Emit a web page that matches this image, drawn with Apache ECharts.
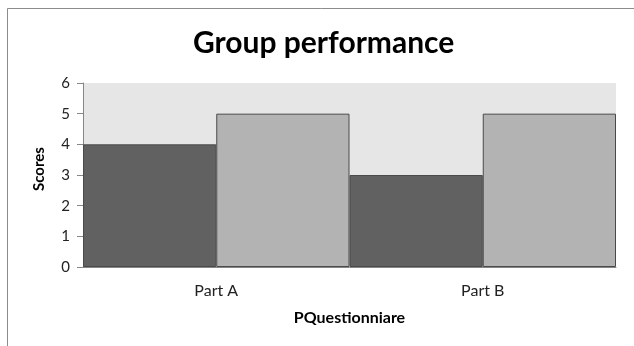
<!DOCTYPE html>
<html>
<head>
<meta charset="utf-8">
<script src="https://cdn.jsdelivr.net/npm/echarts@6/dist/echarts.min.js"></script>
<style>
  html, body { margin: 0; padding: 0; background: #fff; }
  #chart { width: 634px; height: 346px; }
</style>
</head>
<body>
<div id="chart"></div>
<script>
// Questionnaire parts on the category axis
const categories = ['Part A', 'Part B'];
// Scores of the two groups
const groupOne = [4, 3];
const groupTwo = [5, 5];
// Score axis ticks
const yMin = 0, yMax = 6, yStep = 1;

const FONT = 'Lato, "Open Sans", sans-serif';

const chart = echarts.init(document.getElementById('chart'));
chart.setOption({
  animation: false,
  backgroundColor: '#ffffff',
  title: {
    text: 'Group performance',
    left: 188,
    top: 23,
    textStyle: { fontFamily: FONT, fontSize: 30, fontWeight: 'bold', color: '#000' }
  },
  graphic: [{
    type: 'rect',
    shape: { x: 7.5, y: 8.5, width: 700, height: 400 },
    style: { fill: 'none', stroke: '#8c8c8c', lineWidth: 1 },
    silent: true
  }],
  grid: {
    left: 83, right: 18, top: 83, bottom: 79,
    show: true, backgroundColor: '#e6e6e6', borderWidth: 0
  },
  xAxis: {
    type: 'category',
    data: categories,
    name: 'PQuestionniare',
    nameLocation: 'middle',
    nameGap: 43,
    nameTextStyle: { fontFamily: FONT, fontSize: 16, fontWeight: 'bold', color: '#000' },
    axisLine: { show: true, lineStyle: { color: '#868686' } },
    axisTick: { show: false },
    axisLabel: { fontFamily: FONT, fontSize: 16, color: '#222', margin: 16 }
  },
  yAxis: {
    type: 'value',
    min: yMin, max: yMax, interval: yStep,
    name: 'Scores',
    nameLocation: 'middle',
    nameGap: 36,
    nameTextStyle: { fontFamily: FONT, fontSize: 15, fontWeight: 'bold', color: '#000', padding: [0, 0, 0, 12] },
    axisLine: { show: true, lineStyle: { color: '#868686' } },
    axisTick: { show: true, length: 6, lineStyle: { color: '#868686' } },
    axisLabel: { fontFamily: FONT, fontSize: 15, color: '#222', margin: 13 },
    splitLine: { show: false }
  },
  series: [
    {
      type: 'bar',
      data: groupOne,
      barGap: '0%',
      barCategoryGap: '0%',
      itemStyle: { color: '#616161', borderColor: '#4a4a4a', borderWidth: 1 }
    },
    {
      type: 'bar',
      data: groupTwo,
      itemStyle: { color: '#b3b3b3', borderColor: '#4a4a4a', borderWidth: 1 }
    }
  ]
});
</script>
</body>
</html>
